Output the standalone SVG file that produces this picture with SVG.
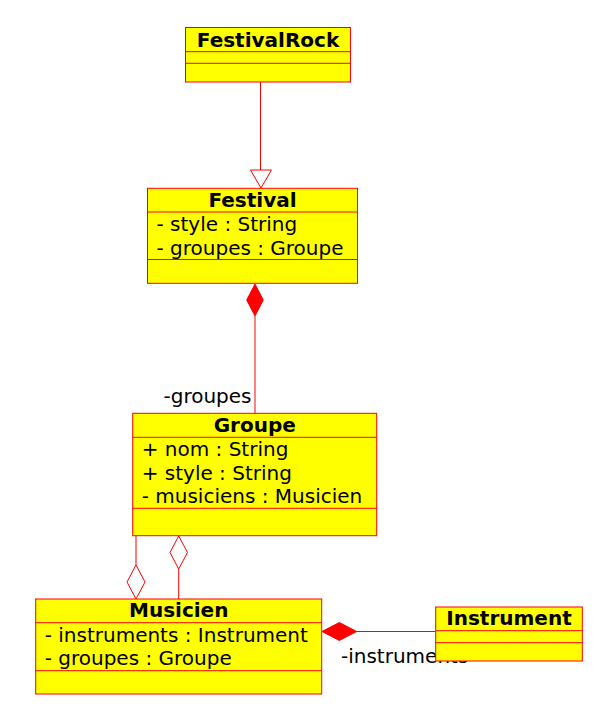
<svg xmlns="http://www.w3.org/2000/svg" width="610" height="721" viewBox="0 0 610 721">
<style>
.box{fill:#FFFF00;stroke:#FF0000;stroke-width:1}
.sep{stroke:#FF0000;stroke-width:1}
.t{font-family:"DejaVu Sans",sans-serif;font-size:20px;fill:#000}
.b{font-weight:bold;text-anchor:middle}
.ln{stroke:#FF0000;stroke-width:1;fill:none}
.hol{fill:#FFFFFF;stroke:#FF0000;stroke-width:1}
.sol{fill:#FF0000;stroke:#FF0000;stroke-width:1}
</style>
<rect width="610" height="721" fill="#FFFFFF"/>
<g id="connectors">
  <line class="ln" x1="260.5" y1="82" x2="260.5" y2="170"/>
  <polygon class="hol" points="250.5,170 271.5,170 261,188"/>
  <polygon class="sol" points="255,284 263.3,300 255,316 246.7,300"/>
  <line class="ln" x1="255" y1="316" x2="255" y2="413"/>
  <text class="t" x="251.5" y="402.5" text-anchor="end">-groupes</text>
  <line class="ln" x1="136" y1="536" x2="136" y2="565"/>
  <polygon class="hol" points="136,565 145,582 136,599 127,582"/>
  <polygon class="hol" points="178.7,536 187.5,552.5 178.7,569 170,552.5"/>
  <line class="ln" x1="178.7" y1="569" x2="178.7" y2="599" stroke-width="1.5"/>
  <polygon class="sol" points="322,631.5 339.3,622.5 356.7,631.5 339.3,640.5"/>
  <line class="ln" x1="356.7" y1="631.5" x2="435.7" y2="631.5"/>
  <text class="t" x="341" y="662.5">-instruments</text>
</g>
<g id="FestivalRock">
  <rect class="box" x="185.5" y="27.5" width="165" height="54.5"/>
  <text class="t b" x="268" y="46.5">FestivalRock</text>
  <line class="sep" x1="185.5" y1="51.7" x2="350.5" y2="51.7"/>
  <line class="sep" x1="185.5" y1="63.3" x2="350.5" y2="63.3"/>
</g>
<g id="Festival">
  <rect class="box" x="147.5" y="188.3" width="210" height="95"/>
  <text class="t b" x="252.5" y="206.7">Festival</text>
  <line class="sep" x1="147.5" y1="212" x2="357.5" y2="212"/>
  <text class="t" x="156.5" y="231.3">- style : String</text>
  <text class="t" x="156.5" y="254.5">- groupes : Groupe</text>
  <line class="sep" x1="147.5" y1="259.5" x2="357.5" y2="259.5"/>
</g>
<g id="Groupe">
  <rect class="box" x="132.7" y="413.3" width="244" height="122.4"/>
  <text class="t b" x="254.7" y="431.7">Groupe</text>
  <line class="sep" x1="132.7" y1="437.3" x2="376.7" y2="437.3"/>
  <text class="t" x="141.7" y="456">+ nom : String</text>
  <text class="t" x="141.7" y="479.5">+ style : String</text>
  <text class="t" x="141.7" y="503">- musiciens : Musicien</text>
  <line class="sep" x1="132.7" y1="508.3" x2="376.7" y2="508.3"/>
</g>
<g id="Musicien">
  <rect class="box" x="35.7" y="599" width="286" height="95"/>
  <text class="t b" x="178.7" y="617">Musicien</text>
  <line class="sep" x1="35.7" y1="622.7" x2="321.7" y2="622.7"/>
  <text class="t" x="44.7" y="641.7">- instruments : Instrument</text>
  <text class="t" x="44.7" y="665">- groupes : Groupe</text>
  <line class="sep" x1="35.7" y1="670.7" x2="321.7" y2="670.7"/>
</g>
<g id="Instrument">
  <rect class="box" x="435.7" y="607" width="146.6" height="54"/>
  <text class="t b" x="509" y="625">Instrument</text>
  <line class="sep" x1="435.7" y1="630.7" x2="582.3" y2="630.7"/>
  <line class="sep" x1="435.7" y1="642.7" x2="582.3" y2="642.7"/>
</g>
</svg>
